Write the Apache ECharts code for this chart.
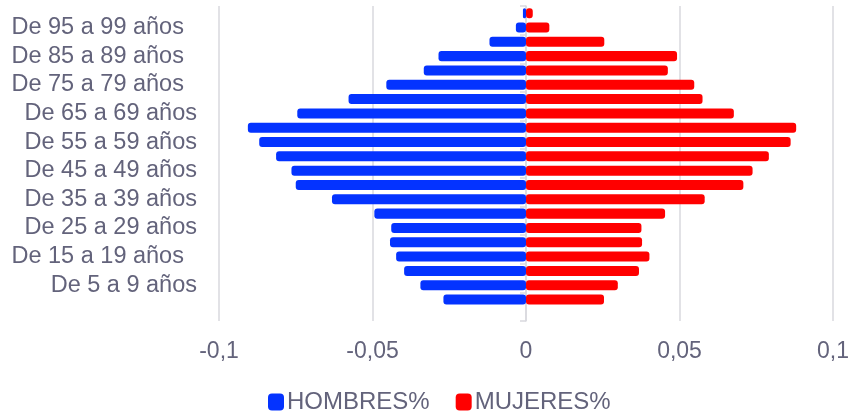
<!DOCTYPE html>
<html>
<head>
<meta charset="utf-8">
<script src="https://cdn.jsdelivr.net/npm/echarts@6/dist/echarts.min.js"></script>
<style>
  html, body { margin: 0; padding: 0; background: #fff; }
  #chart { width: 852px; height: 411px; }
</style>
</head>
<body>
<div id="chart"></div>
<script>
// categorías de abajo hacia arriba (la primera fila va vacía, como en el original)
const categories = [
  '', 'De 0 a 4 años', 'De 5 a 9 años', 'De 10 a 14 años', 'De 15 a 19 años  ',
  'De 20 a 24 años', 'De 25 a 29 años', 'De 30 a 34 años', 'De 35 a 39 años',
  'De 40 a 44 años', 'De 45 a 49 años', 'De 50 a 54 años', 'De 55 a 59 años',
  'De 60 a 64 años', 'De 65 a 69 años', 'De 70 a 74 años', 'De 75 a 79 años  ',
  'De 80 a 84 años', 'De 85 a 89 años  ', 'De 90 a 94 años', 'De 95 a 99 años  ',
  'De 100 años y más'
]

const hombres = [
  null, -0.0269, -0.0344, -0.0397, -0.0423, -0.0443, -0.0439, -0.0494, -0.0632,
  -0.075, -0.0764, -0.0814, -0.0869, -0.0906, -0.0745, -0.0578, -0.0455,
  -0.0333, -0.0285, -0.0119, -0.0033, -0.001
]

const mujeres = [
  null, 0.0254, 0.0299, 0.0368, 0.0402, 0.0378, 0.0376, 0.0453, 0.0582,
  0.0708, 0.0738, 0.0791, 0.0862, 0.088, 0.0677, 0.0575, 0.0548,
  0.0462, 0.0492, 0.0255, 0.0076, 0.0022
]

const textColor = '#63637b'
const lineColor = '#d9d9de'

const chart = echarts.init(document.getElementById('chart'))

const option = {
  animation: false,
  textStyle: { fontFamily: 'Liberation Sans, Arial, sans-serif' },
  legend: {
    data: ['HOMBRES%', 'MUJERES%'],
    left: 268,
    top: 390,
    padding: [0, 0, 0, 0],
    icon: 'roundRect',
    itemWidth: 16,
    itemHeight: 17,
    itemGap: 26,
    textStyle: { fontSize: 24, color: textColor, padding: [0, 0, 0, -2] }
  },
  grid: {
    left: 219,
    right: 15,
    top: 6,
    bottom: 90
  },
  xAxis: {
    type: 'value',
    min: -0.1,
    max: 0.1,
    interval: 0.05,
    axisLine: { show: false },
    axisTick: { show: false },
    axisLabel: {
      fontSize: 23,
      color: textColor,
      margin: 19,
      formatter: (v) => String(Math.round(v * 100) / 100).replace('.', ',')
    },
    splitLine: { lineStyle: { color: lineColor, width: 1.5 } }
  },
  yAxis: [
    {
      type: 'category',
      data: categories,
      axisLine: { show: false, onZero: false },
      axisTick: { show: false },
      axisLabel: {
        interval: 1,
        fontSize: 23.5,
        color: textColor,
        margin: 22
      }
    },
    {
      type: 'category',
      data: categories,
      position: 'left',
      axisLine: { show: true, onZero: true, lineStyle: { color: lineColor, width: 1.5 } },
      axisTick: { show: true, length: 6, lineStyle: { color: lineColor, width: 1.5 } },
      axisLabel: { show: false }
    }
  ],
  series: [
    {
      name: 'HOMBRES%',
      type: 'bar',
      stack: 'pop',
      yAxisIndex: 0,
      barWidth: '70%',
      itemStyle: { color: '#0433ff', borderRadius: 3 },
      data: hombres
    },
    {
      name: 'MUJERES%',
      type: 'bar',
      stack: 'pop',
      yAxisIndex: 0,
      barWidth: '70%',
      itemStyle: { color: '#ff0000', borderRadius: 3 },
      data: mujeres
    }
  ]
}

chart.setOption(option)

window.addEventListener('resize', () => {
  chart.resize()
})
</script>
</body>
</html>
